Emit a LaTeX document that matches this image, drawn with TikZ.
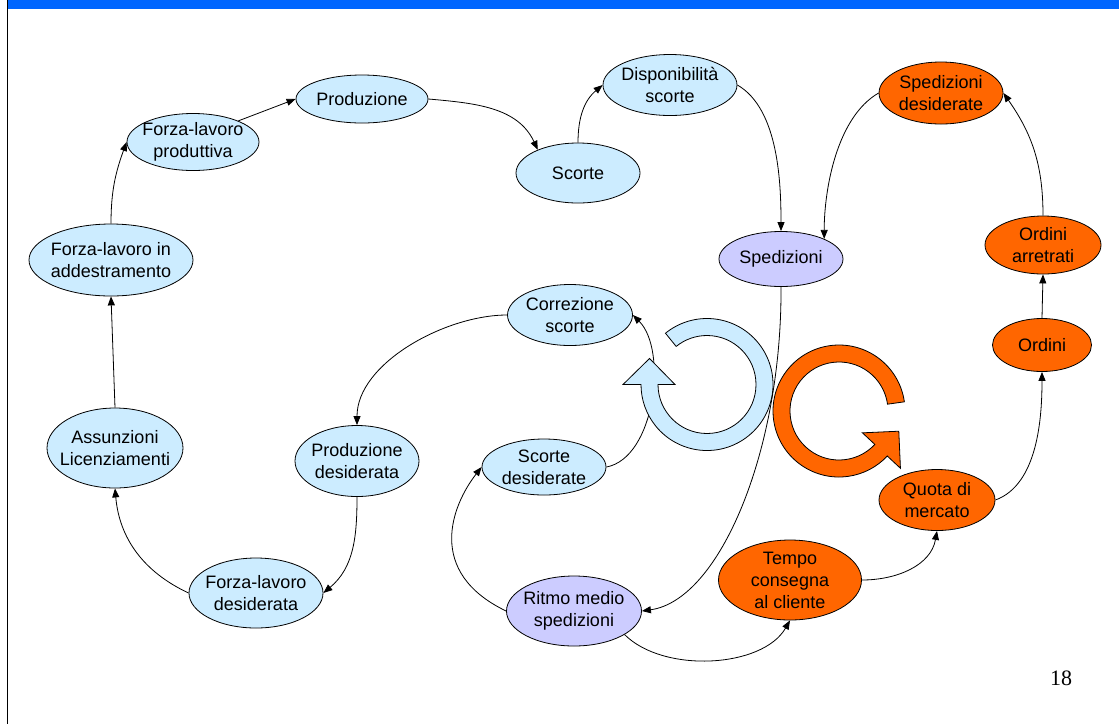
\documentclass[tikz,border=0pt]{standalone}
\usepackage{fontspec}
\setmainfont{Liberation Sans}
\newfontfamily\pagenumfont{Liberation Serif}
\usetikzlibrary{shapes.geometric,arrows.meta,calc}
\definecolor{skyfill}{HTML}{CCECFF}
\definecolor{lilacfill}{HTML}{CCCCFF}
\definecolor{flamefill}{HTML}{FF6600}
\definecolor{barblue}{HTML}{0066FF}

\begin{document}
\begin{tikzpicture}[x=1pt,y=1pt,
  var/.style={ellipse, draw=black, line width=0.8pt, inner xsep=-14pt, inner ysep=-10pt,
              align=center, font=\fontsize{18}{22}\selectfont},
  skyvar/.style={var, fill=skyfill},
  lilacvar/.style={var, fill=lilacfill},
  flamevar/.style={var, fill=flamefill},
  sz/.style 2 args={minimum width=#1pt, minimum height=#2pt},
  link/.style={-{Triangle[length=9pt,width=7pt]}, line width=0.8pt},
  ring/.style={draw=black, line width=0.8pt},
]
\useasboundingbox (0,0) rectangle (1119,-724);

% slide frame: top bar and left rule
\fill[barblue] (7,0) rectangle (1119,-9);
\draw[line width=1.2pt] (7.5,0) -- (7.5,-724);

% workforce / production chain
\node[skyvar, sz={132}{48}] (prod) at (362,-99) {Produzione};
\node[skyvar, sz={132}{57}] (flp) at (193,-142) {Forza-lavoro\\produttiva};
\node[skyvar, sz={164}{72}] (fla) at (111,-260) {Forza-lavoro in\\addestramento};
\node[skyvar, sz={136}{80}] (ass) at (115,-448) {Assunzioni\\Licenziamenti};
\node[skyvar, sz={134}{70}] (fld) at (256,-593) {Forza-lavoro\\desiderata};
\node[skyvar, sz={124}{71}] (prd) at (357,-461) {Produzione\\desiderata};
\node[skyvar, sz={125}{61}] (cor) at (570,-315) {Correzione\\scorte};
\node[skyvar, sz={124}{56}] (sdes) at (544,-467) {Scorte\\desiderate};
\node[skyvar, sz={124}{60}] (sco) at (578,-173) {Scorte};
\node[skyvar, sz={134}{61}] (disp) at (670,-85) {Disponibilità\\scorte};

% shipments
\node[lilacvar, sz={135}{70}] (rms) at (574,-611) {Ritmo medio\\spedizioni};
\node[lilacvar, sz={124}{55}] (sped) at (781,-259) {Spedizioni};

% market side
\node[flamevar, sz={124}{62}] (spdes) at (941,-93) {Spedizioni\\desiderate};
\node[flamevar, sz={116}{58}] (arr) at (1043,-245) {Ordini\\arretrati};
\node[flamevar, sz={99}{53}] (ord) at (1042,-345) {Ordini};
\node[flamevar, sz={116}{61}] (quota) at (937,-500) {Quota di\\mercato};
\node[flamevar, sz={143}{80}] (tempo) at (790,-580) {Tempo\\consegna\\al cliente};

% this link runs underneath the blue loop arrow
\draw[link] (sdes.east) .. controls (655,-458) and (668,-350) .. (cor.east);

% loop arrows
\coordinate (bc) at (707,-384.5);
\coordinate (oc) at (839,-411);
\draw[ring, fill=skyfill]
  ($(bc)+(129:66)$) arc[start angle=129, end angle=-180, radius=66]
  -- ($(bc)+(180:84)$) -- ($(bc)+(-57.5,26)$) -- ($(bc)+(180:32)$)
  -- ($(bc)+(180:49)$) arc[start angle=-180, end angle=129, radius=49] -- cycle;
\draw[ring, fill=flamefill]
  ($(oc)+(8:66)$) arc[start angle=8, end angle=317, radius=66]
  -- ($(oc)+(317:84)$) -- ($(oc)+(59.8,-20.2)$) -- ($(oc)+(317:32)$)
  -- ($(oc)+(317:49)$) arc[start angle=317, end angle=8, radius=49] -- cycle;

% causal links
\draw[link] (fla.north) to[out=90,in=250] (flp.west);
\draw[link] (flp.25) -- (prod.west);
\draw[link] (prod.east) to[out=-5,in=115] (sco.150);
\draw[link] (sco.north) to[out=90,in=220] (disp.west);
\draw[link] (disp.east) to[out=-30,in=90,looseness=0.8] (sped.north);
\draw[link] (spdes.west) to[out=210,in=90,looseness=0.8] (sped.25);
\draw[link] (arr.north) to[out=90,in=-55] (spdes.east);
\draw[link] (ord.north) -- (arr.south);
\draw[link] (quota.east) to[out=20,in=-90,looseness=0.85] (ord.south);
\draw[link] (tempo.east) to[out=0,in=-100] (quota.south);
\draw[link] (rms.-25) to[out=-45,in=-120,looseness=0.85] (tempo.south);
\draw[link] (sped.south) .. controls (782,-450) and (720,-600) .. (rms.east);
\draw[link] (rms.west) .. controls (425,-572) and (452,-505) .. (sdes.west);
\draw[link] (cor.west) to[out=180,in=90,looseness=0.85] (prd.north);
\draw[link] (prd.south) to[out=-90,in=40] (fld.east);
\draw[link] (fld.west) to[out=155,in=-85] (ass.south);
\draw[link] (ass.north) -- (fla.south);

% page number
\node[font=\pagenumfont\fontsize{22}{26}\selectfont] (pagenum) at (1061,-678) {18};
\end{tikzpicture}
\end{document}
